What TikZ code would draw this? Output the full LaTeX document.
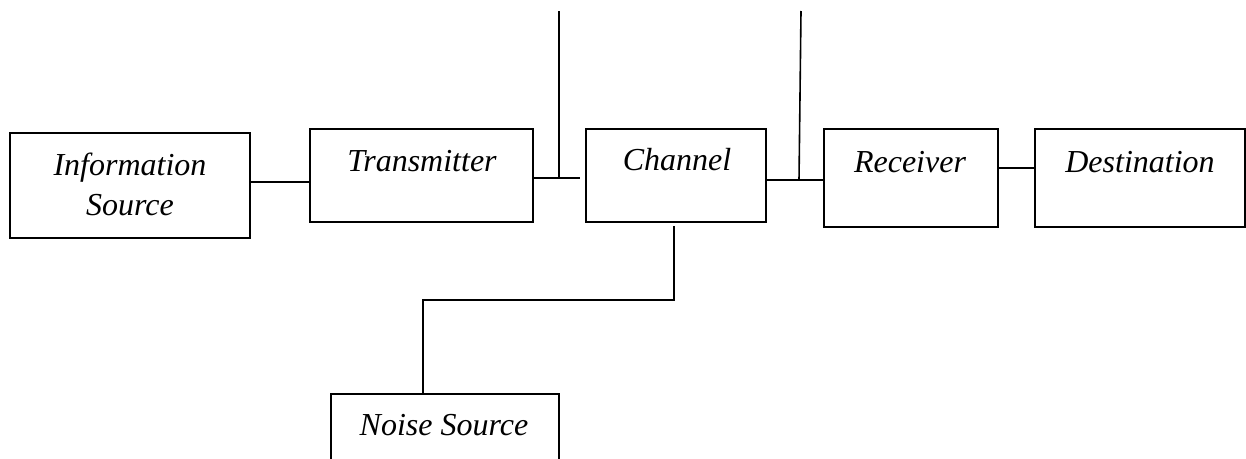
\documentclass[tikz,border=0pt]{standalone}
\usepackage{fontspec}
\setmainfont{Liberation Serif}
\begin{document}
\begin{tikzpicture}[x=1pt,y=-1pt,
  blk/.style={draw,line width=1.2pt,rectangle,inner sep=0pt},
  lbl/.style={anchor=base,inner sep=0pt,font=\fontsize{32}{40}\selectfont\itshape,align=center},
  wire/.style={line width=1.6pt}]
\useasboundingbox (0,0) rectangle (1246,458);
\clip (0,0) rectangle (1246,458);
% boxes
\node[blk,minimum width=240pt,minimum height=105pt] (src) at (130,185.5) {};
\node[blk,minimum width=223pt,minimum height=93pt] (tx) at (421.5,175.5) {};
\node[blk,minimum width=180pt,minimum height=93pt] (ch) at (676,175.5) {};
\node[blk,minimum width=174pt,minimum height=98pt] (rx) at (911,178) {};
\node[blk,minimum width=210pt,minimum height=98pt] (dst) at (1140,178) {};
\node[blk,minimum width=228pt,minimum height=90pt] (ns) at (445,439) {};
% labels
\node[lbl] (srcA) at (130,175) {Information};
\node[lbl] (srcB) at (130,215) {Source};
\node[lbl] (txl) at (422,171) {Transmitter};
\node[lbl] (chl) at (677,170) {Channel};
\node[lbl] (rxl) at (910,172) {Receiver};
\node[lbl] (dstl) at (1140,172) {Destination};
\node[lbl] (nsl) at (444,435) {Noise Source};
% coordinates
\coordinate (txend) at (580,178);
\coordinate (ant1top) at (559,11);
\coordinate (ant1bot) at (559,178);
\coordinate (ant2top) at (801,11);
\coordinate (ant2bot) at (799,180);
\coordinate (chbot) at (674,226);
\coordinate (k1) at (674,300);
\coordinate (k2) at (423,300);
% connectors
\draw[wire] (src.east |- 0,182) -- (tx.west |- 0,182);
\draw[wire] (tx.east |- txend) -- (txend);
\draw[wire] (ant1top) -- (ant1bot);
\draw[wire] (ch.east |- ant2bot) -- (rx.west |- ant2bot);
\draw[wire] (ant2top) -- (ant2bot);
\draw[wire] (rx.east |- 0,168) -- (dst.west |- 0,168);
\draw[wire] (chbot) -- (k1) -- (k2) -- (k2 |- ns.north);
\end{tikzpicture}
\end{document}
